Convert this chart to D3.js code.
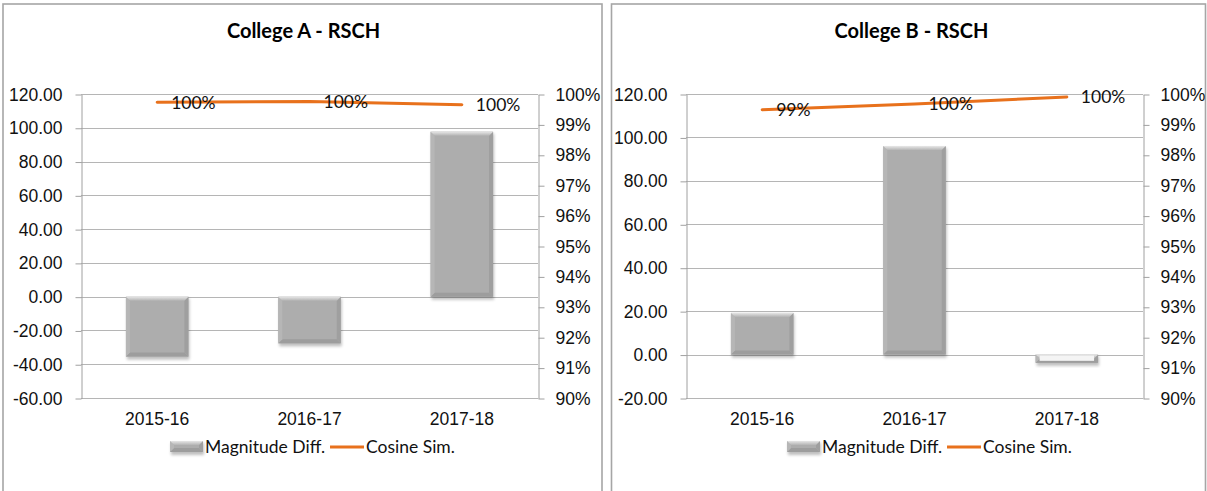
<!DOCTYPE html>
<html>
<head>
<meta charset="utf-8">
<script src="https://cdn.jsdelivr.net/npm/d3@7"></script>
<style>
  body { margin: 0; background: #fff; }
  svg { display: block; font-family: Lato, "Open Sans", sans-serif; }
  .tick text { fill: #111; font-size: 17.5px; }
  .axis path, .axis line { stroke: #a0a0a0; }
</style>
</head>
<body>
<svg id="chart" width="1207" height="491"></svg>
<script>
// data
var categories = ["2015-16", "2016-17", "2017-18"];
var magnitudeA = [-35.5, -27.6, 97.7];
var cosineA = [0.9973, 0.9975, 0.9965];
var magnitudeB = [19.2, 96.0, -3.8];
var cosineB = [0.9948, 0.9967, 0.9990];
var leftTicksA = [-60, -40, -20, 0, 20, 40, 60, 80, 100, 120];
var leftTicksB = [-20, 0, 20, 40, 60, 80, 100, 120];
var rightTicks = [0.90, 0.91, 0.92, 0.93, 0.94, 0.95, 0.96, 0.97, 0.98, 0.99, 1.00];
var legendNames = ["Magnitude Diff.", "Cosine Sim."];

var orange = "#e8711c";
var fmtNum = function(d) { return d3.format(".2f")(d).replace("\u2212", "-"); };
var fmtPct = d3.format(".0%");

var svg = d3.select("#chart");

var defs = svg.append("defs");
var blur = defs.append("filter").attr("id", "shadow")
    .attr("x", "-20%").attr("y", "-20%").attr("width", "140%").attr("height", "140%");
blur.append("feGaussianBlur").attr("stdDeviation", 1.6);

var topGrad = defs.append("linearGradient").attr("id", "bevelTop")
    .attr("x1", 0).attr("y1", 0).attr("x2", 0).attr("y2", 1);
topGrad.append("stop").attr("offset", "0%").attr("stop-color", "#e6e6e6");
topGrad.append("stop").attr("offset", "100%").attr("stop-color", "#b4b4b4");

// bar with an Excel style bevel
var drawBar = function(g, x, y, w, h) {
    var b = 4;
    g.append("rect").attr("x", x + 1).attr("y", y + 2).attr("width", w).attr("height", h + 1)
        .attr("fill", "#000").attr("opacity", 0.25).attr("filter", "url(#shadow)");
    g.append("rect").attr("x", x).attr("y", y).attr("width", w).attr("height", h).attr("fill", "#adadad");
    var e = Math.min(b, h / 2);
    g.append("path")
        .attr("d", "M" + x + "," + (y + h) + "L" + (x + w) + "," + (y + h) + "L" + (x + w - e) + "," + (y + h - e) + "L" + (x + e) + "," + (y + h - e) + "Z")
        .attr("fill", "#9d9d9d");
    g.append("path")
        .attr("d", "M" + (x + w) + "," + y + "L" + (x + w) + "," + (y + h) + "L" + (x + w - e) + "," + (y + h - e) + "L" + (x + w - e) + "," + (y + e) + "Z")
        .attr("fill", "#9f9f9f");
    g.append("path")
        .attr("d", "M" + x + "," + y + "L" + x + "," + (y + h) + "L" + (x + e) + "," + (y + h - e) + "L" + (x + e) + "," + (y + e) + "Z")
        .attr("fill", "#b6b6b6");
    g.append("path")
        .attr("d", "M" + x + "," + y + "L" + (x + w) + "," + y + "L" + (x + w - e) + "," + (y + e) + "L" + (x + e) + "," + (y + e) + "Z")
        .attr("fill", "url(#bevelTop)");
    if (h > 2 * b + 2) return;
    // very short bars look hollow in the original
    g.append("rect").attr("x", x + e).attr("y", y + 1).attr("width", w - 2 * e).attr("height", Math.max(h - 3, 1))
        .attr("fill", "#f4f4f4");
};

var draw_chart = function(c) {
    var g = svg.append("g");

    // outer panel border
    g.append("rect").attr("x", c.panel[0]).attr("y", c.panel[1])
        .attr("width", c.panel[2]).attr("height", c.panel[3])
        .attr("fill", "none").attr("stroke", "#a6a6a6").attr("stroke-width", 1.6);

    g.append("text")
        .attr("x", c.panel[0] + c.panel[2] / 2 + c.titleShift).attr("y", 38)
        .attr("text-anchor", "middle")
        .style("font-weight", "bold").style("font-size", "20px").attr("fill", "#000")
        .text(c.title);

    var x = d3.scaleBand().domain(categories).range([c.left, c.right])
        .paddingInner(0.59).paddingOuter(0.295);
    var y = d3.scaleLinear().domain(c.yDomain).range([c.bottom, c.top]);
    var y2 = d3.scaleLinear().domain([0.9, 1]).range([c.bottom, c.top]);

    // horizontal gridlines
    g.append("g").selectAll("line").data(c.leftTicks).enter()
        .append("line")
        .attr("x1", c.left).attr("x2", c.right)
        .attr("y1", function(d) { return Math.round(y(d)) + 0.5; })
        .attr("y2", function(d) { return Math.round(y(d)) + 0.5; })
        .attr("stroke", "#b5b5b5");

    g.append("g").attr("class", "axis")
        .attr("transform", "translate(" + (c.left + 0.5) + ",0.5)")
        .call(d3.axisLeft(y).tickValues(c.leftTicks).tickFormat(fmtNum)
            .tickSize(6).tickSizeOuter(0).tickPadding(13));

    g.append("g").attr("class", "axis")
        .attr("transform", "translate(" + (c.right + 0.5) + ",0.5)")
        .call(d3.axisRight(y2).tickValues(rightTicks).tickFormat(fmtPct)
            .tickSize(6).tickSizeOuter(0).tickPadding(11));

    var xa = g.append("g").attr("class", "axis")
        .attr("transform", "translate(0," + c.bottom + ")")
        .call(d3.axisBottom(x).tickSize(0).tickPadding(15));
    xa.select(".domain").remove();

    // bars
    var bars = g.append("g");
    c.magnitude.forEach(function(v, i) {
        var y0 = y(0), y1 = y(v);
        drawBar(bars, x(categories[i]), Math.min(y0, y1), x.bandwidth(), Math.abs(y1 - y0));
    });

    // cosine line
    var cx = function(d, i) { return x(categories[i]) + x.bandwidth() / 2; };
    var line = d3.line().x(cx).y(function(d) { return y2(d); });
    g.append("path").datum(c.cosine)
        .attr("d", line).attr("fill", "none")
        .attr("stroke", orange).attr("stroke-width", 3).attr("stroke-linecap", "round");

    g.append("g").selectAll("text").data(c.cosine).enter()
        .append("text")
        .attr("x", function(d, i) { return cx(d, i) + 14; })
        .attr("y", function(d) { return y2(d); })
        .attr("dy", "0.36em")
        .style("font-size", "17.5px").attr("fill", "#111")
        .text(fmtPct);

    // legend
    var lg = g.append("g").attr("transform", "translate(" + c.legendX + ",447)");
    drawBar(lg, 0, -6, 33, 11);
    var t1 = lg.append("text").attr("x", 35).attr("y", 6)
        .style("font-size", "17.5px").attr("fill", "#111").text(legendNames[0]);
    var lx = 35 + t1.node().getComputedTextLength() + 5;
    lg.append("line").attr("x1", lx).attr("x2", lx + 34).attr("y1", 0).attr("y2", 0)
        .attr("stroke", orange).attr("stroke-width", 3);
    lg.append("text").attr("x", lx + 36).attr("y", 6)
        .style("font-size", "17.5px").attr("fill", "#111").text(legendNames[1]);
};

draw_chart({
    title: "College A - RSCH", titleShift: 1,
    panel: [3, 4, 599, 500],
    left: 81, right: 538, top: 94, bottom: 398,
    yDomain: [-60, 120], leftTicks: leftTicksA,
    magnitude: magnitudeA, cosine: cosineA,
    legendX: 170
});

draw_chart({
    title: "College B - RSCH", titleShift: 3,
    panel: [611.5, 4, 594, 500],
    left: 686, right: 1143, top: 94, bottom: 398,
    yDomain: [-20, 120], leftTicks: leftTicksB,
    magnitude: magnitudeB, cosine: cosineB,
    legendX: 787
});
</script>
</body>
</html>
